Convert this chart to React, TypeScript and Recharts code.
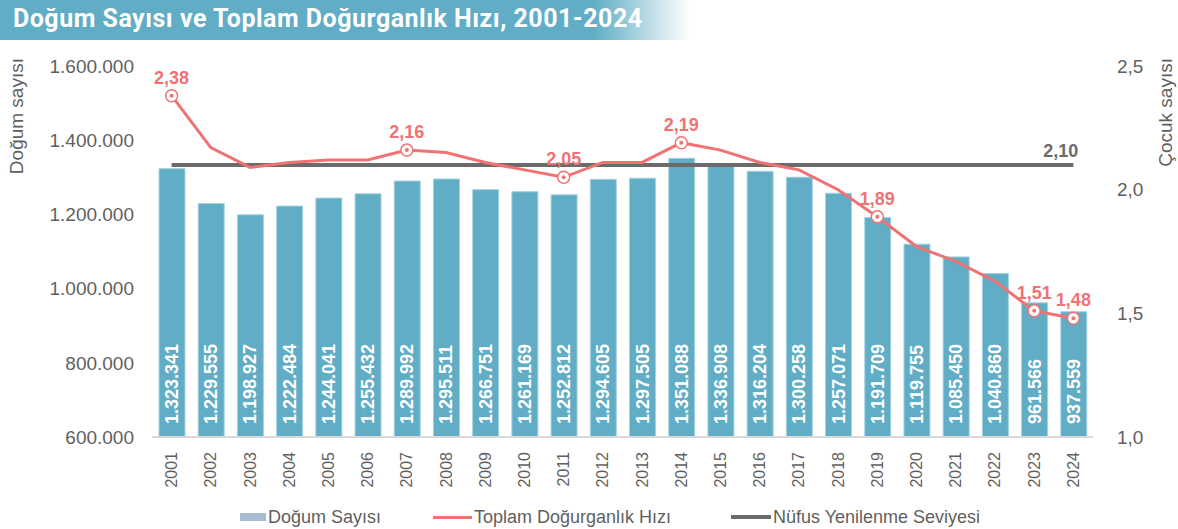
import React from "react";
import { ComposedChart, Bar, Line, XAxis, YAxis, ReferenceLine, LabelList } from "recharts";

const years = [
  "2001", "2002", "2003", "2004", "2005", "2006", "2007", "2008", "2009", "2010", "2011", "2012",
  "2013", "2014", "2015", "2016", "2017", "2018", "2019", "2020", "2021", "2022", "2023", "2024",
];
const births = [
  1323341, 1229555, 1198927, 1222484, 1244041, 1255432, 1289992, 1295511, 1266751, 1261169, 1252812, 1294605,
  1297505, 1351088, 1336908, 1316204, 1300258, 1257071, 1191709, 1119755, 1085450, 1040860, 961566, 937559,
];
const fertility = [
  2.38, 2.17, 2.09, 2.11, 2.12, 2.12, 2.16, 2.15, 2.11, 2.08, 2.05, 2.11,
  2.11, 2.19, 2.16, 2.11, 2.08, 2.0, 1.89, 1.77, 1.71, 1.63, 1.51, 1.48,
];
const labelledYears = ["2001", "2007", "2011", "2014", "2019", "2023", "2024"];
const replacementLevel = 2.1;
const leftTicks = [600000, 800000, 1000000, 1200000, 1400000, 1600000];
const rightTicks = [1, 1.5, 2, 2.5];

const data = years.map((year, i) => ({ year, births: births[i], fertility: fertility[i] }));

const FONT = "'Liberation Sans', Arial, sans-serif";
const GRAY = "#5f5f5f";
const RED = "#f07272";
const TEAL = "#60adc5";
const DARK = "#6b6b6b";

const dots = (v: number) => String(v).replace(/\B(?=(\d{3})+(?!\d))/g, ".");
const comma = (v: number, d: number) => v.toFixed(d).replace(".", ",");

function YearTick({ x, y, payload }: any) {
  const ty = y + 7;
  return (
    <text x={x} y={ty} transform={`rotate(-90, ${x}, ${ty})`} textAnchor="end" dominantBaseline="central"
      fill={GRAY} fontSize={16} fontFamily={FONT}>{payload.value}</text>
  );
}

function BarValue({ x, y, width, height, value }: any) {
  const cx = x + width / 2;
  const by = y + height - 13;
  return (
    <text x={cx} y={by} transform={`rotate(-90, ${cx}, ${by})`} textAnchor="start" dominantBaseline="central"
      fill="#fff" fontSize={18} fontWeight="bold" fontFamily={FONT}>{dots(value)}</text>
  );
}

function FertilityDot({ cx, cy, payload }: any) {
  if (!labelledYears.includes(payload.year)) return <g key={payload.year} />;
  return (
    <g key={payload.year}>
      <circle cx={cx} cy={cy} r={6} fill="#fff" stroke={RED} strokeWidth={1.5} />
      <circle cx={cx} cy={cy} r={2} fill={RED} />
    </g>
  );
}

function FertilityLabel({ x, y, value, index }: any) {
  if (!labelledYears.includes(years[index])) return null;
  return (
    <text x={x} y={y - 12} textAnchor="middle" fill={RED} fontSize={18} fontWeight="bold" fontFamily={FONT}>
      {comma(value, 2)}
    </text>
  );
}

function LegendItem({ left, swatch, label }: { left: number; swatch: React.ReactNode; label: string }) {
  return (
    <div style={{ position: "absolute", left, top: 0, display: "flex", alignItems: "center", height: 24, whiteSpace: "nowrap" }}>
      {swatch}
      <span style={{ marginLeft: 2, fontSize: 18, color: GRAY }}>{label}</span>
    </div>
  );
}

export default function App() {
  return (
    <div style={{ position: "absolute", left: 0, top: 0, width: 1178, height: 529, background: "#fff", fontFamily: FONT, overflow: "hidden" }}>
      <div style={{
        position: "absolute", left: 0, top: 0, width: 690, height: 40,
        background: `linear-gradient(to right, ${TEAL} 0%, ${TEAL} 86%, #ffffff 100%)`,
      }}>
        <div style={{ position: "absolute", left: 13, top: 4, color: "#fff", fontSize: 25, letterSpacing: 0.5, fontWeight: "bold", fontFamily: "Roboto, sans-serif", whiteSpace: "nowrap" }}>
          Doğum Sayısı ve Toplam Doğurganlık Hızı, 2001-2024
        </div>
      </div>

      <div style={{ position: "absolute", left: 0, top: 0 }}>
        <ComposedChart width={1178} height={529} data={data} margin={{ top: 66, right: 0, bottom: 0, left: 0 }}>
          <XAxis dataKey="year" height={92} tickLine={false} axisLine={{ stroke: "#d9d9d9", strokeWidth: 2 }}
            tick={<YearTick />} interval={0} />
          <YAxis yAxisId="left" width={152} domain={[600000, 1600000]} ticks={leftTicks} tickFormatter={dots}
            axisLine={false} tickLine={false} tick={{ fill: GRAY, fontSize: 19, fontFamily: FONT }} tickMargin={12} />
          <YAxis yAxisId="right" orientation="right" width={85} domain={[1, 2.5]} ticks={rightTicks}
            tickFormatter={(v: number) => comma(v, 1)} axisLine={false} tickLine={false}
            tick={{ fill: GRAY, fontSize: 19, fontFamily: FONT }} tickMargin={18} />
          <Bar yAxisId="left" dataKey="births" fill={TEAL} stroke="#a5d2e0" strokeWidth={1} barSize={26} isAnimationActive={false}>
            <LabelList dataKey="births" content={<BarValue />} />
          </Bar>
          <ReferenceLine yAxisId="right" segment={[{ x: years[0], y: replacementLevel }, { x: years[years.length - 1], y: replacementLevel }]}
            stroke={DARK} strokeWidth={4}
            label={({ viewBox }: any) => (
              <text x={viewBox.x + viewBox.width + 5} y={viewBox.y - 8} textAnchor="end" fill={DARK}
                fontSize={18} fontWeight="bold" fontFamily={FONT}>{comma(replacementLevel, 2)}</text>
            )} />
          <Line yAxisId="right" dataKey="fertility" stroke={RED} strokeWidth={3} dot={<FertilityDot />}
            activeDot={false} isAnimationActive={false}>
            <LabelList dataKey="fertility" content={<FertilityLabel />} />
          </Line>
        </ComposedChart>
      </div>

      <svg width={1178} height={529} style={{ position: "absolute", left: 0, top: 0, pointerEvents: "none" }}>
        <text x={16} y={58} transform="rotate(-90, 16, 58)" textAnchor="end" dominantBaseline="central"
          fill={GRAY} fontSize={19} fontFamily={FONT}>Doğum sayısı</text>
        <text x={1165} y={58} transform="rotate(-90, 1165, 58)" textAnchor="end" dominantBaseline="central"
          fill={GRAY} fontSize={19} fontFamily={FONT}>Çocuk sayısı</text>
      </svg>

      <div style={{ position: "absolute", left: 0, top: 505, width: 1178, height: 24 }}>
        <LegendItem left={240} label="Doğum Sayısı" swatch={<div style={{ width: 26, height: 8, background: "#a7bdd1" }} />} />
        <LegendItem left={433} label="Toplam Doğurganlık Hızı" swatch={<div style={{ width: 39, height: 3, background: RED }} />} />
        <LegendItem left={731} label="Nüfus Yenilenme Seviyesi" swatch={<div style={{ width: 40, height: 4, background: DARK }} />} />
      </div>
    </div>
  );
}
